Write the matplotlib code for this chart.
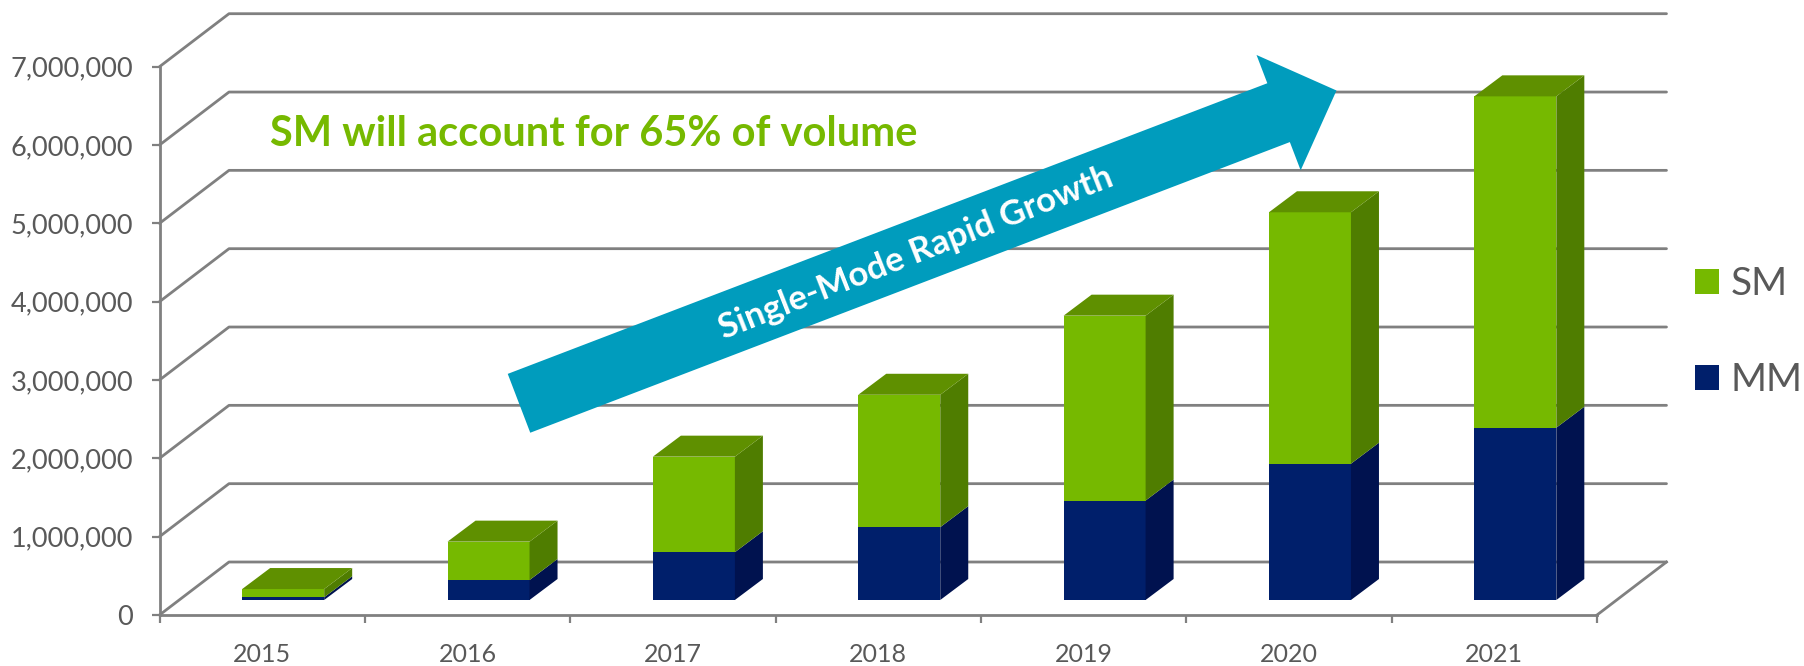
import matplotlib
matplotlib.use("Agg")
import matplotlib.pyplot as plt
from matplotlib.patches import Polygon, FancyArrow, Patch
from matplotlib.transforms import IdentityTransform
from matplotlib.ticker import FuncFormatter, FixedLocator

years = ["2015", "2016", "2017", "2018", "2019", "2020", "2021"]
mm = [35000, 255000, 610000, 930000, 1270000, 1740000, 2200000]
sm = [105000, 490000, 1220000, 1690000, 2360000, 3210000, 4230000]
y_ticks = [0, 1000000, 2000000, 3000000, 4000000, 5000000, 6000000, 7000000]

GREEN, GREEN_TOP, GREEN_SIDE = "#76B900", "#5F9000", "#4F7D00"
NAVY, NAVY_TOP, NAVY_SIDE = "#001F6B", "#00175A", "#00124F"
GRID, TXT = "#808080", "#595959"
FONT = "Lato"

W, H = 1804, 666
fig = plt.figure(figsize=(W / 100, H / 100), dpi=100, facecolor="white")
plt.rcParams["font.family"] = FONT

# front plane of the pseudo-3D chart
x0, x1, y0, y7 = 159.5, 1597, 615, 66.7
ax = fig.add_axes([x0 / W, 1 - y0 / H, (x1 - x0) / W, (y0 - y7) / H])
ax.set_xlim(-0.5, 6.5)
ax.set_ylim(0, 7000000)
ax.patch.set_visible(False)

cat_px = (x1 - x0) / 7
val_px = (y0 - y7) / 7000000
floor_dx, floor_dy = 69.5 / cat_px, 53 / val_px   # depth of whole chart
front_dx, front_dy = 21 / cat_px, 15 / val_px     # bar front inside depth
bar_dx, bar_dy = 28 / cat_px, 21 / val_px         # depth of bar
bar_w = 82 / cat_px

# walls
lw = 2.0
for v in y_ticks:
    ax.plot([-0.5, -0.5 + floor_dx, 6.5 + floor_dx], [v, v + floor_dy, v + floor_dy],
            color=GRID, lw=lw, zorder=1, clip_on=False, solid_capstyle="round", solid_joinstyle="round")
ax.plot([6.5, 6.5 + floor_dx], [0, floor_dy], color=GRID, lw=lw, zorder=1, clip_on=False)

# bars
def draw_segment(i, bottom, height, front, side, top=None):
    left = i - bar_w / 2 + front_dx
    right = left + bar_w
    b = bottom + front_dy
    t = b + height
    ax.bar(left + bar_w / 2, height, bar_w, bottom=b, color=front, zorder=3, clip_on=False, linewidth=0)
    ax.add_patch(Polygon([(right, b), (right + bar_dx, b + bar_dy), (right + bar_dx, t + bar_dy), (right, t)],
                         closed=True, fc=side, ec="none", zorder=3, clip_on=False))
    if top is not None:
        ax.add_patch(Polygon([(left, t), (left + bar_dx, t + bar_dy), (right + bar_dx, t + bar_dy), (right, t)],
                             closed=True, fc=top, ec="none", zorder=3, clip_on=False))

for i in range(len(years)):
    draw_segment(i, 0, mm[i], NAVY, NAVY_SIDE)
    draw_segment(i, mm[i], sm[i], GREEN, GREEN_SIDE, GREEN_TOP)

# axes
for s in ("top", "right"):
    ax.spines[s].set_visible(False)
for s in ("left", "bottom"):
    ax.spines[s].set_color(GRID)
    ax.spines[s].set_linewidth(lw)
    ax.spines[s].set_zorder(2)
ax.set_yticks(y_ticks)
ax.yaxis.set_major_formatter(FuncFormatter(lambda v, p: f"{int(v):,}"))
ax.tick_params(axis="y", length=6, width=1.6, color=GRID, labelcolor=TXT, labelsize=19.5, pad=13)
ax.set_xticks(range(len(years)))
ax.set_xticklabels(years)
ax.xaxis.set_minor_locator(FixedLocator([i - 0.5 for i in range(len(years) + 1)]))
ax.tick_params(axis="x", which="major", length=0, labelcolor=TXT, labelsize=18, pad=20)
ax.tick_params(axis="x", which="minor", length=6, width=1.6, color=GRID)
for lab in ax.get_xticklabels() + ax.get_yticklabels():
    lab.set_fontfamily(FONT)

# annotations
fig.add_artist(FancyArrow(519, H - 403.3, 817.5, 312.8, width=63, head_width=123.5, head_length=62,
                          length_includes_head=True, fc="#009CBD", ec="none",
                          transform=IdentityTransform(), zorder=5))
fig.text(916 / W, 1 - 253 / H, "Single-Mode Rapid Growth", rotation=21.5, rotation_mode="anchor",
         ha="center", va="center", color="white", fontsize=25, fontweight="bold", family=FONT, zorder=6)
fig.text(270 / W, 1 - 134 / H, "SM will account for 65% of volume", ha="left", va="center",
         color=GREEN, fontsize=30, fontweight="bold", family=FONT, zorder=6)

# legend
handles = [Patch(fc=GREEN, ec="none", label="SM"), Patch(fc=NAVY, ec="none", label="MM")]
fig.legend(handles=handles, loc="upper left", bbox_to_anchor=(1695 / W, 1 - 266 / H), frameon=False,
           labelcolor=TXT, handlelength=0.62, handleheight=0.62, handletextpad=0.3,
           labelspacing=1.55, borderpad=0, borderaxespad=0, prop={"family": FONT, "size": 28})

fig.savefig("out.png", dpi=100, facecolor="white")
